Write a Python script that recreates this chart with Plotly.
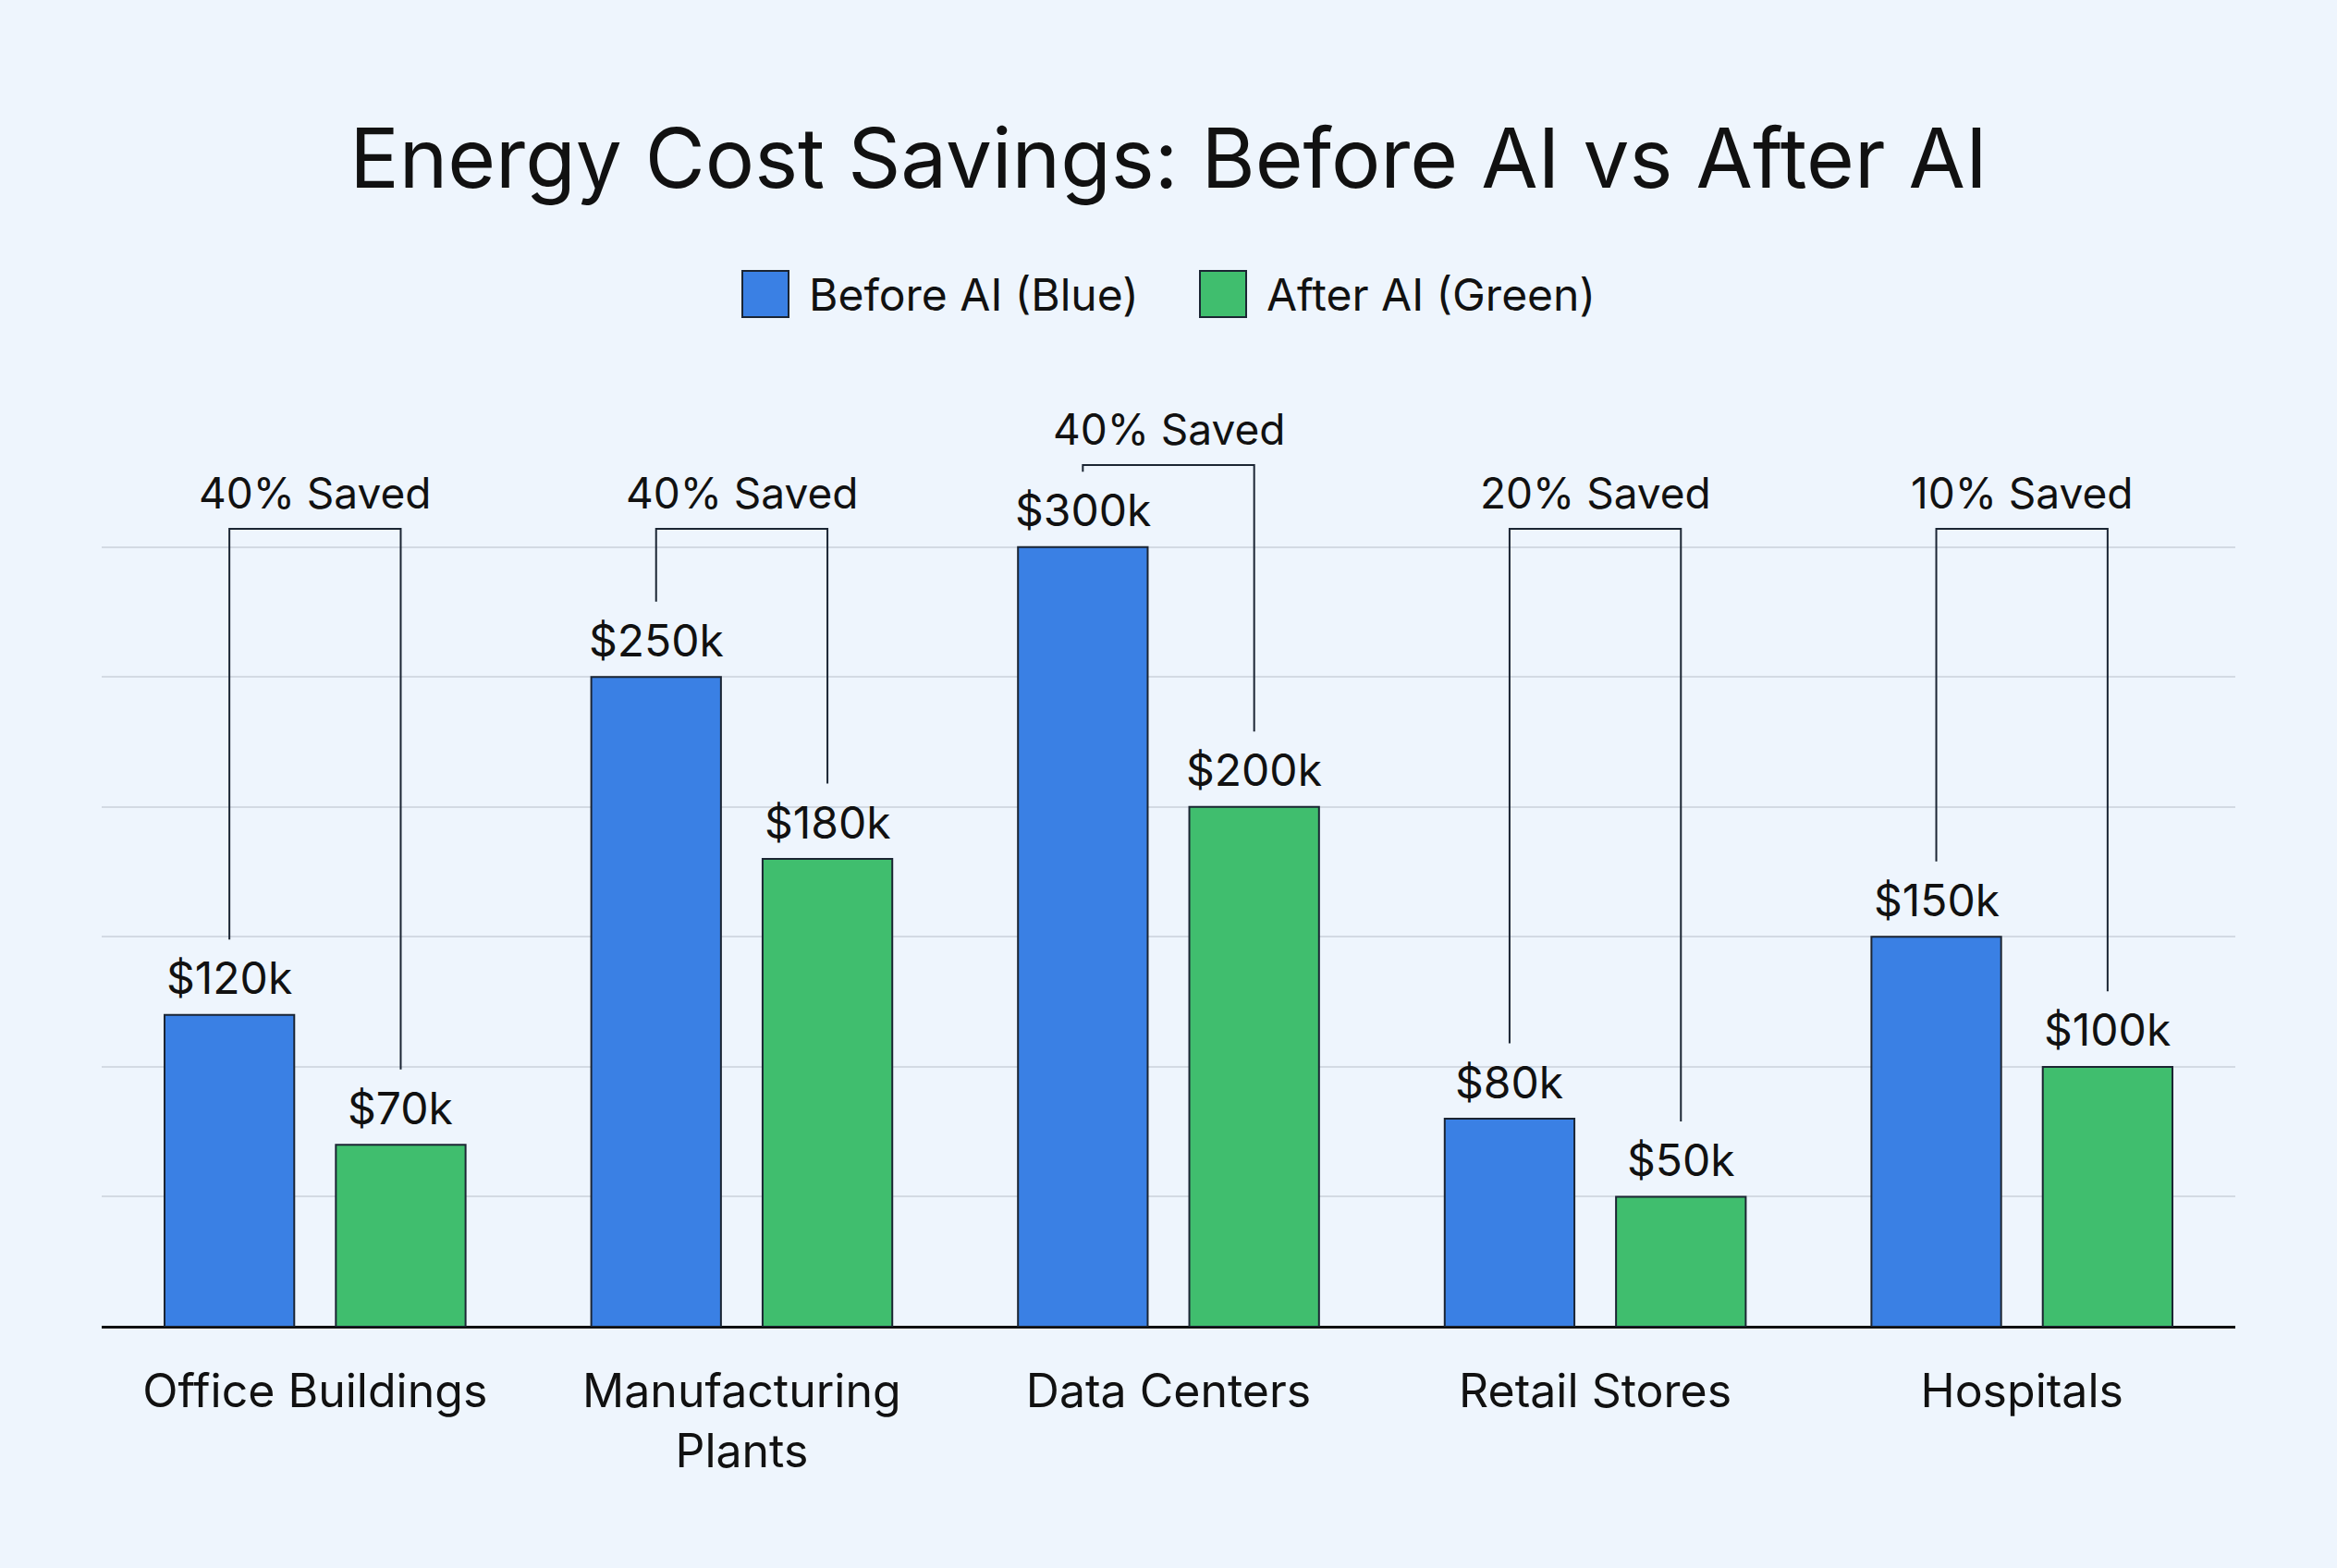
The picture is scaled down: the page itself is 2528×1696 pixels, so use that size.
import numpy as np
import plotly.graph_objects as go

# Dados do gráfico
categorias = ["Office Buildings", "Manufacturing<br>Plants", "Data Centers", "Retail Stores", "Hospitals"]
antes_ia = [120, 250, 300, 80, 150]      # $k
depois_ia = [70, 180, 200, 50, 100]      # $k
rotulos_economia = ["40% Saved", "40% Saved", "40% Saved", "20% Saved", "10% Saved"]
series = ["Before AI (Blue)", "After AI (Green)"]
ticks_grade = [0, 50, 100, 150, 200, 250, 300]

cor_azul = "#3A80E4"
cor_verde = "#40BE6E"
cor_borda = "#1B2533"
cor_fundo = "#EEF5FD"
fonte = "Inter"

# Área do gráfico em pixels
W, H = 2528, 1696
ML, MR, MT, MB = 110, 110, 423, 261

def px_x(p):
    return (p - ML) / (W - ML - MR)

def px_y(p):
    return (H - MB - p) / (H - MT - MB)

x = np.arange(len(categorias))
bargap = 0.197
bargroupgap = 0.243
deslocamento = (1 - bargap) / 4  # centro de cada barra em relação ao centro do grupo

fig = go.Figure()
fig.add_trace(go.Bar(x=x, y=antes_ia, name=series[0], showlegend=False,
                     marker=dict(color=cor_azul, line=dict(color=cor_borda, width=2))))
fig.add_trace(go.Bar(x=x, y=depois_ia, name=series[1], showlegend=False,
                     marker=dict(color=cor_verde, line=dict(color=cor_borda, width=2))))

# Colchetes e rótulos
folga = 29       # distância da linha ao topo da barra ($k)
nivel_min = 307  # nível mínimo do colchete ($k)
anotacoes = []
for i in range(len(categorias)):
    xa = x[i] - deslocamento
    xd = x[i] + deslocamento
    yb = max(max(antes_ia[i], depois_ia[i]) + 31.5, nivel_min)
    fig.add_trace(go.Scatter(x=[xa, xa, xd, xd],
                             y=[antes_ia[i] + folga, yb, yb, depois_ia[i] + folga],
                             mode="lines", line=dict(color=cor_borda, width=2),
                             showlegend=False, hoverinfo="skip", cliponaxis=False))
    anotacoes.append(dict(x=x[i], y=yb, text=rotulos_economia[i], showarrow=False,
                          yanchor="middle", yshift=39, font=dict(size=46, color="#111111")))
    anotacoes.append(dict(x=xa, y=antes_ia[i], text=f"${antes_ia[i]}k", showarrow=False,
                          yanchor="middle", yshift=40, font=dict(size=48, color="#111111")))
    anotacoes.append(dict(x=xd, y=depois_ia[i], text=f"${depois_ia[i]}k", showarrow=False,
                          yanchor="middle", yshift=40, font=dict(size=48, color="#111111")))

# Legenda desenhada à mão (quadrados grandes)
formas = []
for nome, cor, x0 in [(series[0], cor_azul, 803), (series[1], cor_verde, 1298)]:
    formas.append(dict(type="rect", xref="paper", yref="paper",
                       x0=px_x(x0), x1=px_x(x0 + 50), y0=px_y(343), y1=px_y(293),
                       fillcolor=cor, line=dict(color=cor_borda, width=2)))
    anotacoes.append(dict(xref="paper", yref="paper", x=px_x(x0 + 70), y=px_y(318),
                          text=nome, showarrow=False, xanchor="left", yanchor="middle",
                          font=dict(size=48, color="#111111")))

fig.update_layout(
    width=W, height=H,
    barmode="group", bargap=bargap, bargroupgap=bargroupgap,
    paper_bgcolor=cor_fundo, plot_bgcolor=cor_fundo,
    font=dict(family=fonte, color="#111111"),
    margin=dict(l=ML, r=MR, t=MT, b=MB),
    title=dict(text="Energy Cost Savings: Before AI vs After AI", x=0.5, xanchor="center",
               y=1 - 172 / H, yanchor="middle", font=dict(size=89, color="#111111")),
    showlegend=False,
    shapes=formas,
    annotations=anotacoes,
)
fig.update_xaxes(tickvals=x, ticktext=categorias, range=[-0.5, len(categorias) - 0.5],
                 showgrid=False, zeroline=False, showline=False, ticks="",
                 tickfont=dict(size=50, color="#111111"), ticklabelstandoff=36)
fig.update_yaxes(range=[0, 360], tickvals=ticks_grade, showticklabels=False,
                 gridcolor="#D3DAE3", gridwidth=1.5, zeroline=True,
                 zerolinecolor="#111111", zerolinewidth=2.5, showline=False)

fig.write_html("out.html", config={"displayModeBar": False},
               post_script="document.body.style.margin='0';")
